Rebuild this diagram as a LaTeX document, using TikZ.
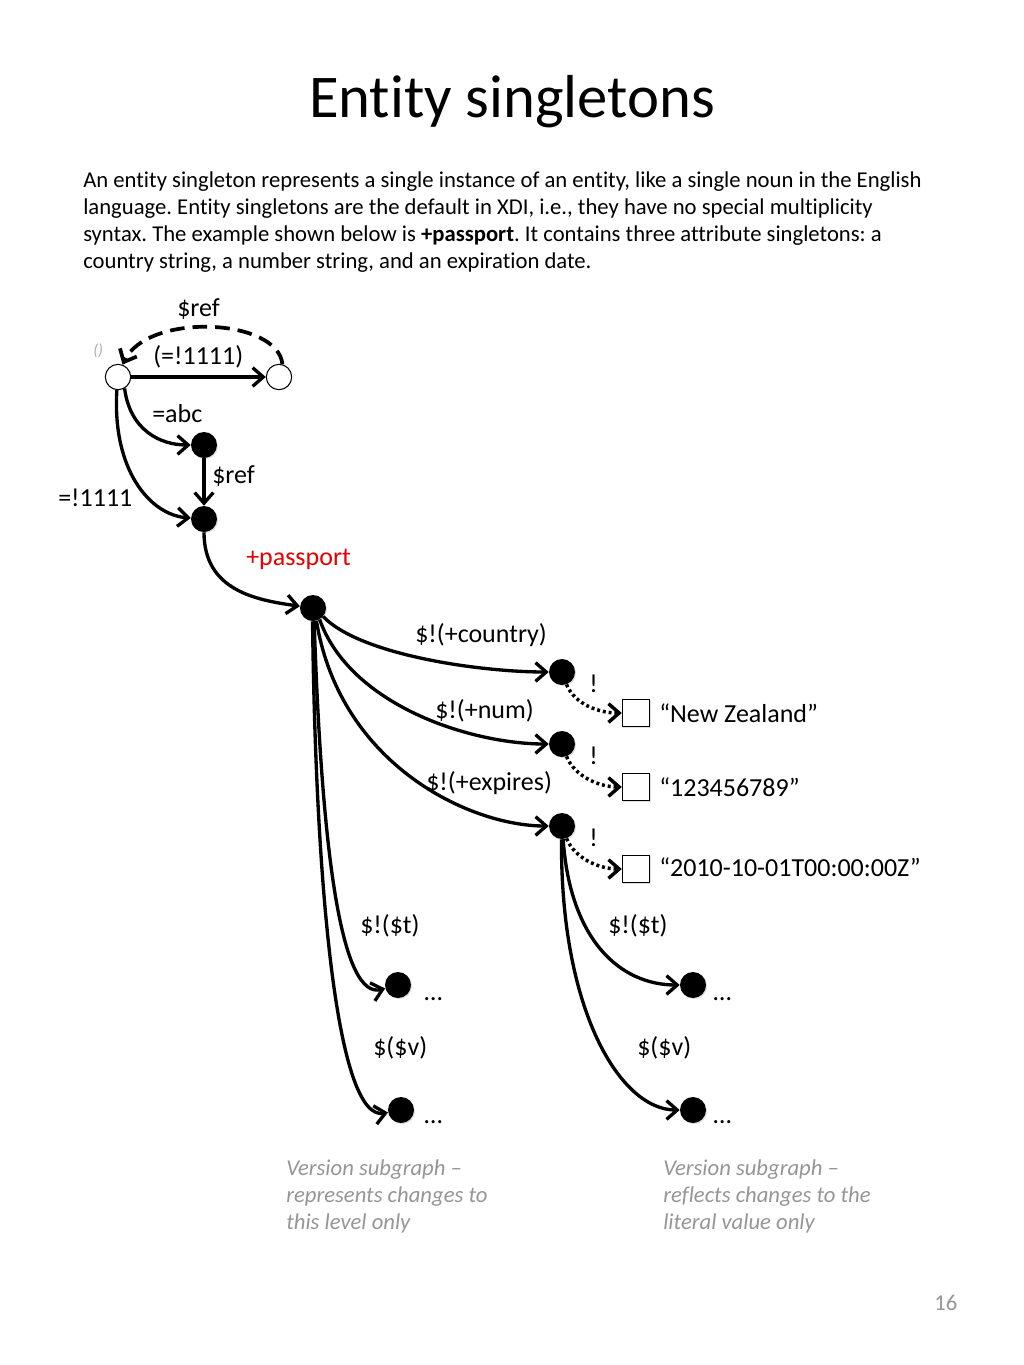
\documentclass[tikz,border=0pt]{standalone}
\usepackage{fontspec}
\setmainfont[Ligatures={NoCommon}]{Carlito}
\usetikzlibrary{arrows.meta,shadows}
\definecolor{graytxt}{RGB}{150,150,150}
\definecolor{passred}{RGB}{230,0,0}
\begin{document}
\frenchspacing
\begin{tikzpicture}[x=0.75pt,y=-0.75pt,
  dot/.style={circle,fill=black,inner sep=0pt,minimum size=19.5pt,
    drop shadow={shadow xshift=0.8pt,shadow yshift=-0.8pt,opacity=0.25}},
  odot/.style={circle,draw=black,line width=0.8pt,fill=white,inner sep=0pt,minimum size=19pt},
  lit/.style={draw=black,line width=0.8pt,fill=white,inner sep=0pt,minimum size=20.5pt,
    drop shadow={shadow xshift=0.8pt,shadow yshift=-0.8pt,opacity=0.25}},
  edge/.style={line width=2.5pt,-{Straight Barb[length=8pt,width=14pt]}},
  dashedge/.style={edge,line width=2.8pt,dash pattern=on 11pt off 6pt},
  dotedge/.style={line width=2.6pt,dash pattern=on 2.2pt off 2.2pt,-{Straight Barb[length=8pt,width=14pt]}},
  lbl/.style={anchor=base west,font=\fontsize{19.5}{23}\selectfont,inner sep=0pt},
  body/.style={anchor=base west,font=\fontsize{17}{20.25}\selectfont,inner sep=0pt},
  note/.style={anchor=base west,font=\fontsize{17}{20.25}\selectfont\itshape,text=graytxt,inner sep=0pt}
]
\useasboundingbox[fill=white] (0,0) rectangle (1024,1365);

% title and text
\node[anchor=base,font=\fontsize{45.5}{50}\selectfont,inner sep=0pt] (title) at (512,117) {Entity singletons};
\node[body] (b1) at (83,187) {An entity singleton represents a single instance of an entity, like a single noun in the English};
\node[body] (b2) at (83,214) {language. Entity singletons are the default in XDI, i.e., they have no special multiplicity};
\node[body] (b3) at (83,241) {syntax. The example shown below is \textbf{+passport}. It contains three attribute singletons: a};
\node[body] (b4) at (83,268) {country string, a number string, and an expiration date.};

% nodes
\node[odot] (root) at (118,377) {};
\node[odot] (rc) at (279,377) {};
\node[dot] (abc) at (204,445) {};
\node[dot] (eq) at (204,519) {};
\node[dot] (pp) at (313,608) {};
\node[dot] (co) at (562,672) {};
\node[dot] (nu) at (562,744) {};
\node[dot] (ex) at (562,826) {};
\node[lit] (s1) at (636,713) {};
\node[lit] (s2) at (636,787) {};
\node[lit] (s3) at (636,869) {};
\node[dot] (lt) at (398,985) {};
\node[dot] (lv) at (401,1110) {};
\node[dot] (rt) at (693,985) {};
\node[dot] (rv) at (693,1110) {};

% edges
\draw[edge] (root) -- (rc);
\draw[dashedge] (rc.75) .. controls (278,318) and (148,312) .. (root.70);
\draw[edge] (root.-60) .. controls (130,430) and (160,445) .. (abc);
\draw[edge] (root.-95) .. controls (112,470) and (150,515) .. (eq);
\draw[edge] (abc) -- (eq);
\draw[edge] (eq.-90) .. controls (204,590) and (255,600) .. (pp);
\draw[edge] (pp.-40) .. controls (360,655) and (480,672) .. (co);
\draw[edge] (pp.-60) .. controls (350,705) and (470,744) .. (nu);
\draw[edge] (pp.-75) .. controls (340,765) and (470,826) .. (ex);
\draw[edge] (pp.-85) .. controls (322,860) and (342,1000) .. (lt);
\draw[edge] (pp.-92) .. controls (316,900) and (338,1122) .. (lv);
\draw[edge] (ex.-85) .. controls (570,940) and (620,985) .. (rt);
\draw[edge] (ex.-92) .. controls (560,1010) and (620,1110) .. (rv);
\draw[dotedge] (co.-70) .. controls (575,705) and (600,713) .. (s1);
\draw[dotedge] (nu.-70) .. controls (575,777) and (600,787) .. (s2);
\draw[dotedge] (ex.-70) .. controls (575,859) and (600,869) .. (s3);

% labels
\node[lbl] (l1) at (177,316) {\$ref};
\node[anchor=base west,font=\fontsize{12}{13}\selectfont\itshape,text=graytxt!80,inner sep=0pt] (l0) at (93,355) {()};
\node[lbl] (l2) at (153,364) {(=!1111)};
\node[lbl] (l3) at (152,422) {=abc};
\node[lbl] (l4) at (212,483) {\$ref};
\node[lbl] (l5) at (58,506) {=!1111};
\node[lbl,text=passred] (l6) at (246,565) {+passport};
\node[lbl] (l7) at (415,642) {\$!(+country)};
\node[lbl] (l8) at (589,692) {!};
\node[lbl] (l9) at (435,718) {\$!(+num)};
\node[lbl] (l10) at (589,764) {!};
\node[lbl] (l11) at (426,790) {\$!(+expires)};
\node[lbl] (l12) at (589,846) {!};
\node[lbl] (v1) at (659,722) {“New Zealand”};
\node[lbl] (v2) at (659,796) {“123456789”};
\node[lbl] (v3) at (659,876) {“2010-10-01T00:00:00Z”};
\node[lbl] (t1) at (360,933) {\$!(\$t)};
\node[lbl] (t2) at (373,1055) {\$(\$v)};
\node[lbl] (t3) at (608,933) {\$!(\$t)};
\node[lbl] (t4) at (637,1055) {\$(\$v)};
\node[lbl] (d1) at (424,1000) {…};
\node[lbl] (d2) at (424,1123) {…};
\node[lbl] (d3) at (713,1000) {…};
\node[lbl] (d4) at (713,1123) {…};

% notes
\node[note] (n1) at (286,1175) {Version subgraph –};
\node[note] (n2) at (286,1202) {represents changes to};
\node[note] (n3) at (286,1229) {this level only};
\node[note] (n4) at (663,1175) {Version subgraph –};
\node[note] (n5) at (663,1202) {reflects changes to the};
\node[note] (n6) at (663,1229) {literal value only};

\node[anchor=base west,font=\fontsize{17}{18}\selectfont,text=graytxt,inner sep=0pt] (pg) at (934,1310) {16};
\end{tikzpicture}
\end{document}
